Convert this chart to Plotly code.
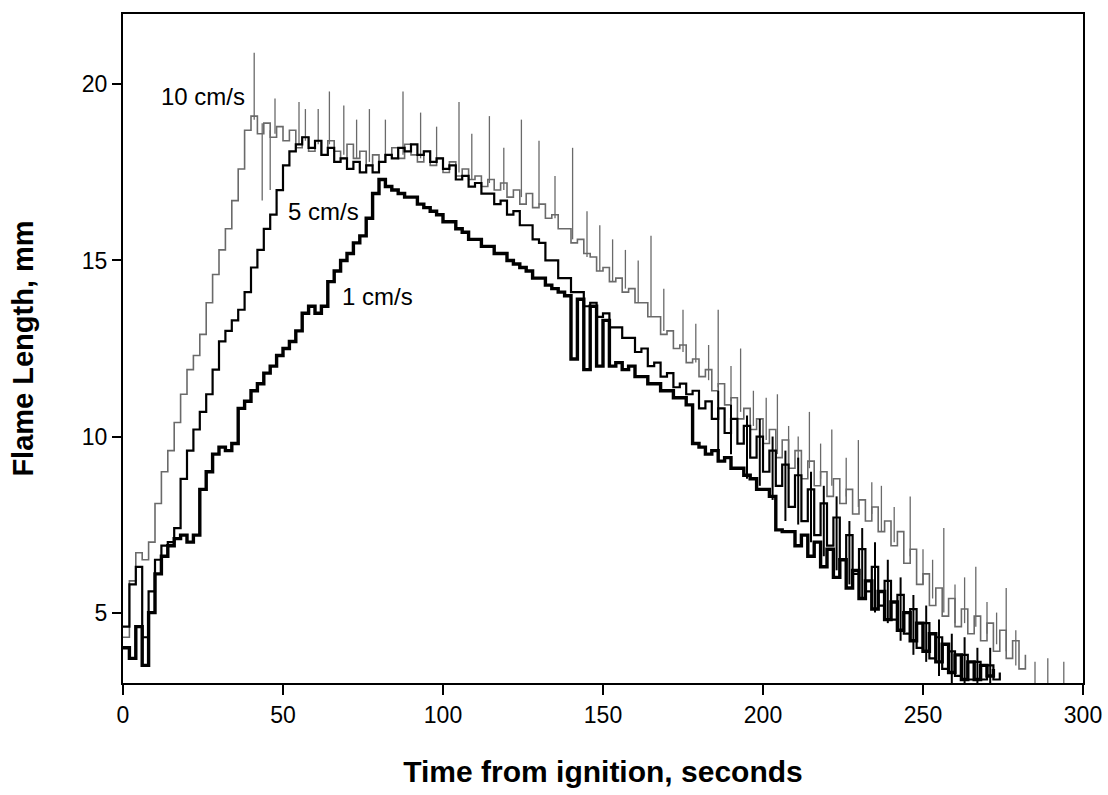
import plotly.graph_objects as go

# ---------------- data ----------------
time_s = [0, 2, 4, 6, 8, 10, 12, 14, 16, 18, 20, 22, 24, 26, 28, 30, 32, 34, 36, 38,
          40, 42, 44, 46, 48, 50, 52, 54, 56, 58, 60, 62, 64, 66, 68, 70, 72, 74, 76, 78,
          80, 82, 84, 86, 88, 90, 92, 94, 96, 98, 100, 102, 104, 106, 108, 110, 112, 114, 116, 118,
          120, 122, 124, 126, 128, 130, 132, 134, 136, 138, 140, 142, 144, 146, 148, 150, 152, 154, 156, 158,
          160, 162, 164, 166, 168, 170, 172, 174, 176, 178, 180, 182, 184, 186, 188, 190, 192, 194, 196, 198,
          200, 202, 204, 206, 208, 210, 212, 214, 216, 218, 220, 222, 224, 226, 228, 230, 232, 234, 236, 238,
          240, 242, 244, 246, 248, 250, 252, 254, 256, 258, 260, 262, 264, 266, 268, 270, 272, 274, 276, 278,
          280, 282]

flame_10 = [4.3, 5.9, 6.7, 6.5, 7.0, 8.1, 9.0, 9.6, 10.4, 11.2, 11.9, 12.3, 12.9, 13.8, 14.6, 15.3, 15.9, 16.7, 17.6, 18.7,
            19.1, 18.6, 18.9, 18.5, 18.8, 18.4, 18.7, 18.2, 18.5, 18.1, 18.4, 18.0, 18.4, 18.1, 17.9, 18.3, 17.9, 18.1, 17.7, 18.0,
            17.8, 18.0, 18.2, 17.9, 18.3, 18.0, 17.8, 18.1, 17.7, 17.9, 17.5, 17.8, 17.4, 17.6, 17.3, 17.4, 17.1, 17.3, 17.0, 17.2,
            16.8, 17.0, 16.6, 16.9, 16.5, 16.6, 16.2, 16.3, 15.9, 15.9, 15.5, 15.6, 15.2, 15.1, 14.7, 14.8, 14.4, 14.5, 14.1, 14.2,
            13.8, 13.8, 13.4, 13.4, 12.9, 13.0, 12.5, 12.6, 12.1, 12.2, 11.7, 11.9, 11.3, 11.5, 10.9, 11.1, 10.5, 10.8, 10.2, 10.5,
            9.8, 10.2, 9.4, 9.9, 9.1, 9.6, 8.8, 9.3, 8.6, 9.0, 8.3, 8.8, 8.1, 8.5, 7.8, 8.2, 7.6, 8.0, 7.3, 7.6,
            6.9, 7.3, 6.4, 6.8, 5.8, 6.1, 5.2, 5.7, 4.9, 5.4, 4.6, 5.1, 4.4, 4.9, 4.2, 4.7, 3.9, 4.5, 3.7, 4.2,
            3.4, 3.8]

flame_5 = [4.6, 5.8, 6.3, 4.3, 5.6, 6.5, 6.9, 7.0, 7.4, 8.8, 9.6, 10.2, 10.7, 11.2, 11.9, 12.7, 13.0, 13.3, 13.6, 14.1,
           14.8, 15.3, 15.9, 16.3, 17.0, 17.7, 18.1, 18.3, 18.5, 18.2, 18.4, 18.0, 18.2, 17.8, 17.9, 17.6, 17.8, 17.5, 17.7, 17.5,
           17.8, 18.0, 17.9, 18.2, 18.1, 18.3, 18.0, 18.1, 17.8, 17.9, 17.6, 17.7, 17.3, 17.4, 17.1, 17.2, 16.9, 16.9, 16.6, 16.7,
           16.3, 16.4, 16.0, 16.0, 15.6, 15.5, 15.0, 15.0, 14.5, 14.5, 14.1, 14.1, 13.7, 13.8, 13.4, 13.5, 13.1, 13.1, 12.8, 12.8,
           12.4, 12.5, 12.0, 12.1, 11.7, 11.8, 11.4, 11.5, 11.2, 11.3, 10.8, 11.0, 10.5, 10.8, 10.1, 10.5, 9.8, 10.3, 9.4, 10.0,
           9.0, 9.6, 8.6, 9.2, 8.0, 8.9, 7.6, 8.5, 7.2, 8.1, 6.9, 7.7, 6.5, 7.2, 6.1, 6.8, 5.6, 6.3, 5.2, 5.9,
           4.8, 5.5, 4.4, 5.1, 4.0, 4.7, 3.7, 4.3, 3.4, 3.9, 3.2, 3.8, 3.1, 3.6, 3.1, 3.5, 3.1, 3.3]

flame_1 = [4.0, 3.7, 4.6, 3.5, 5.0, 6.1, 6.6, 6.9, 7.1, 7.2, 7.0, 7.2, 8.5, 9.0, 9.5, 9.7, 9.6, 9.8, 10.8, 11.0,
           11.3, 11.5, 11.8, 12.0, 12.3, 12.5, 12.7, 13.0, 13.5, 13.7, 13.5, 13.7, 14.4, 14.7, 15.0, 15.2, 15.5, 15.7, 16.2, 16.9,
           17.3, 17.1, 17.0, 16.9, 16.8, 16.8, 16.6, 16.5, 16.4, 16.3, 16.1, 16.1, 15.9, 15.8, 15.6, 15.6, 15.4, 15.4, 15.2, 15.2,
           15.0, 14.9, 14.8, 14.7, 14.5, 14.5, 14.3, 14.2, 14.1, 14.0, 12.2, 13.9, 11.9, 13.7, 12.0, 13.3, 12.0, 12.1, 11.9, 12.0,
           11.7, 11.7, 11.5, 11.5, 11.3, 11.3, 11.1, 11.1, 10.9, 9.8, 9.7, 9.5, 9.6, 9.3, 9.4, 9.1, 9.1, 8.9, 8.8, 8.5,
           8.5, 8.3, 7.35, 7.3, 7.3, 6.9, 7.2, 6.6, 7.0, 6.3, 6.8, 6.0, 6.5, 5.7, 6.2, 5.4, 5.9, 5.1, 5.6, 4.8,
           5.3, 4.5, 5.0, 4.2, 4.7, 3.9, 4.4, 3.6, 4.1, 3.3, 3.8, 3.1, 3.6, 3.1, 3.5, 3.2, 3.4]

# vertical excursions (time, low, high)
spike10_t = [41, 43.5, 46, 47.5, 55, 57, 61, 64.5, 69, 73, 77, 82, 87.5, 93, 98, 105, 109, 114.5, 119, 124.5,
             130, 135, 140.5, 145, 149, 153, 157, 161, 165, 169, 175, 179, 183, 186, 190, 193, 197, 201, 204.5, 208,
             211, 214.5, 218, 221.5, 226, 229.8, 234, 237, 241, 246, 250, 253, 256.5, 260, 263, 266.5, 270, 273, 276, 279,
             285, 289, 294]
spike10_lo = [19.0, 16.7, 17.0, 18.6, 18.3, 18.4, 18.3, 18.3, 18.0, 17.9, 17.8, 17.9, 18.0, 17.9, 17.8, 17.5, 17.3, 17.2, 17.0, 16.8,
              16.6, 16.2, 15.6, 15.1, 14.7, 14.4, 14.2, 13.8, 13.4, 13.0, 12.4, 12.1, 11.6, 11.4, 11.0, 10.7, 10.3, 9.9, 9.5, 9.2,
              9.2, 9.1, 8.8, 8.6, 8.3, 8.0, 7.8, 7.3, 7.0, 6.6, 5.8, 5.4, 5.0, 4.7, 4.7, 4.6, 4.4, 4.1, 3.9, 3.5,
              3.0, 3.0, 3.0]
spike10_hi = [20.9, 18.9, 18.7, 19.6, 19.5, 19.3, 19.3, 19.8, 19.4, 19.0, 19.3, 19.0, 19.8, 19.2, 18.8, 19.5, 18.6, 19.1, 18.2, 19.0,
              18.4, 17.4, 18.2, 16.4, 16.0, 15.6, 15.3, 15.0, 15.7, 14.2, 13.6, 13.2, 12.6, 13.6, 12.0, 12.5, 11.3, 11.1, 11.2, 10.3,
              10.0, 10.7, 9.8, 10.2, 9.4, 9.9, 8.7, 8.6, 8.0, 8.3, 6.8, 6.5, 7.4, 5.8, 6.0, 6.3, 5.3, 5.0, 5.7, 4.5,
              3.6, 3.7, 3.6]

spike5_t = [186, 190, 195, 199, 203, 207, 211, 215, 219, 223, 227, 231, 235, 239, 243, 247, 251, 255, 259, 263, 267, 271]
spike5_lo = [9.6, 9.5, 8.8, 8.6, 8.2, 7.6, 7.5, 7.0, 6.6, 6.2, 5.8, 5.4, 5.0, 4.7, 4.2, 3.8, 3.6, 3.2, 3.0, 3.0, 3.0, 3.0]
spike5_hi = [11.3, 10.9, 10.6, 10.5, 10.0, 9.6, 9.4, 9.0, 8.6, 8.3, 7.6, 7.4, 7.0, 6.5, 6.0, 5.5, 5.2, 4.8, 4.4, 4.3, 4.0, 4.0]

labels = ["10 cm/s", "5 cm/s", "1 cm/s"]
label_x = [11.4, 50.9, 67.8]
label_y = [19.65, 16.4, 13.97]

x_ticks = [0, 50, 100, 150, 200, 250, 300]
y_ticks = [5, 10, 15, 20]


def segs(ts, lo, hi):
    xs, ys = [], []
    for t, a, b in zip(ts, lo, hi):
        xs += [t, t, None]
        ys += [a, b, None]
    return xs, ys


fig = go.Figure()
GRAY = "#6a6a6a"

fig.add_trace(go.Scatter(x=time_s[:len(flame_10)], y=flame_10, mode="lines",
                         line=dict(color=GRAY, width=1.6, shape="hv"), hoverinfo="skip"))
sx, sy = segs(spike10_t, spike10_lo, spike10_hi)
fig.add_trace(go.Scatter(x=sx, y=sy, mode="lines", line=dict(color=GRAY, width=1.3), hoverinfo="skip"))

fig.add_trace(go.Scatter(x=time_s[:len(flame_5)], y=flame_5, mode="lines",
                         line=dict(color="black", width=2.2, shape="hv"), hoverinfo="skip"))
sx, sy = segs(spike5_t, spike5_lo, spike5_hi)
fig.add_trace(go.Scatter(x=sx, y=sy, mode="lines", line=dict(color="black", width=2), hoverinfo="skip"))

fig.add_trace(go.Scatter(x=time_s[:len(flame_1)], y=flame_1, mode="lines",
                         line=dict(color="black", width=3.4, shape="hv"), hoverinfo="skip"))

for txt, lx, ly in zip(labels, label_x, label_y):
    fig.add_annotation(x=lx, y=ly, text=txt, showarrow=False, xanchor="left", yanchor="middle",
                       font=dict(family="Liberation Sans, Arial, sans-serif", size=24, color="black"))

tick_font = dict(family="Liberation Sans Narrow, Arial Narrow, Liberation Sans, Arial", size=23, color="black")
title_font_x = dict(family="Liberation Sans, Arial, sans-serif", size=30, color="black")
title_font_y = dict(family="Liberation Sans, Arial, sans-serif", size=29, color="black")

fig.update_xaxes(range=[0, 300], tickvals=x_ticks, ticks="outside", ticklen=10, tickwidth=2,
                 tickcolor="black", showline=True, linecolor="black", linewidth=2, mirror=True,
                 showgrid=False, zeroline=False, tickfont=tick_font, automargin=False,
                 title=dict(text="<b>Time from ignition, seconds</b>", font=title_font_x, standoff=34))
fig.update_yaxes(range=[3, 22], tickvals=y_ticks, ticks="outside", ticklen=9, tickwidth=2,
                 tickcolor="black", showline=True, linecolor="black", linewidth=2, mirror=True,
                 showgrid=False, zeroline=False, tickfont=tick_font, automargin=False,
                 title=dict(text="<b>Flame Length, mm</b>", font=title_font_y, standoff=40))

fig.update_layout(width=1108, height=795, margin=dict(l=123, r=25, t=14, b=112),
                  paper_bgcolor="white", plot_bgcolor="white", showlegend=False)

fig.write_html("out.html")
